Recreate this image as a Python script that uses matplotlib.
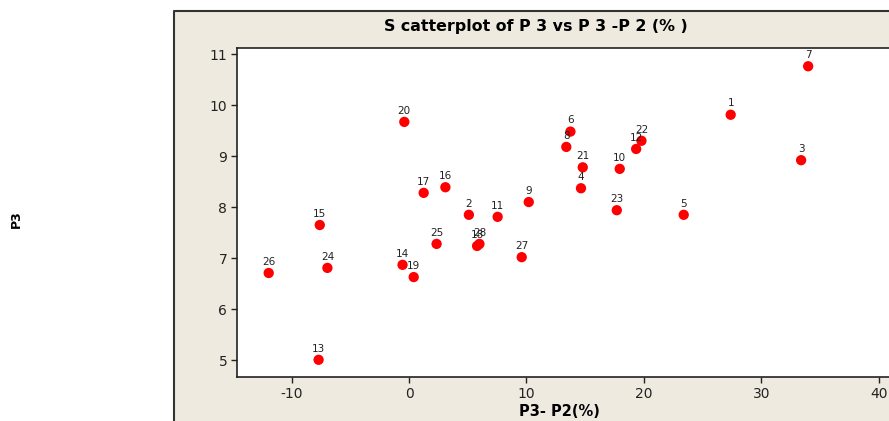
import matplotlib.pyplot as plt
from matplotlib.patches import Rectangle
from matplotlib.lines import Line2D

plt.rcParams['savefig.bbox'] = 'standard'
plt.rcParams['axes.unicode_minus'] = False

# P3-P2(%) vs P3, point labels 1..28
labels = [str(i) for i in range(1, 29)]
p3_p2 = [27.4, 5.1, 33.4, 14.65, 23.4, 13.75, 34.0, 13.4, 10.2, 17.95,
         7.55, 19.35, -7.7, -0.55, -7.6, 3.1, 1.25, 5.8, 0.4, -0.4,
         14.8, 19.8, 17.7, -6.95, 2.35, -11.95, 9.6, 6.0]
p3 = [9.81, 7.85, 8.92, 8.37, 7.85, 9.48, 10.76, 9.18, 8.10, 8.75,
      7.81, 9.14, 5.01, 6.87, 7.65, 8.39, 8.28, 7.24, 6.63, 9.67,
      8.78, 9.30, 7.94, 6.81, 7.28, 6.71, 7.02, 7.28]

W, H = 889, 421
beige = "#EEEAE0"

fig = plt.figure(figsize=(W / 100, H / 100), dpi=100)
fig.patch.set_facecolor("white")

# outer graph panel (cut off at the right and bottom edges)
px, py = 174 / W, 1 - 11 / H
fig.patches.append(Rectangle((px, 0), 1 - px, py, transform=fig.transFigure,
                             facecolor=beige, edgecolor="none", zorder=-5))
fig.lines.append(Line2D([px, px, 1], [0, py, py], transform=fig.transFigure,
                        color="#333333", linewidth=1.5, zorder=-4))

# data area, right side runs to the figure edge
ax_l, ax_r, ax_t, ax_b = 237, 889, 48, 377
ax = fig.add_axes([ax_l / W, 1 - ax_b / H, (ax_r - ax_l) / W, (ax_b - ax_t) / H])
ax.set_facecolor("white")

x0, sx = 409.0, 11.74
ax.set_xlim((ax_l - x0) / sx, (ax_r - x0) / sx)
y11, sy = 54.0, 51.05
ax.set_ylim(11 - (ax_b - y11) / sy, 11 + (y11 - ax_t) / sy)

ax.scatter(p3_p2, p3, s=55, color="#FF0000", edgecolors="none", zorder=3)
for lab, xv, yv in zip(labels, p3_p2, p3):
    ax.annotate(lab, (xv, yv), xytext=(0, 4.5), textcoords="offset points",
                ha="center", va="bottom", fontsize=7.5, color="#222222")

ax.set_xticks([-10, 0, 10, 20, 30, 40])
ax.set_yticks([5, 6, 7, 8, 9, 10, 11])
ax.tick_params(direction="out", length=4, width=1, labelsize=10, pad=3,
               colors="#222222")
for s in ["left", "bottom", "top"]:
    ax.spines[s].set_linewidth(1.2)
    ax.spines[s].set_color("#222222")
ax.spines["right"].set_visible(False)

fig.text(535.5 / W, 1 - 27 / H, "S catterplot of P 3 vs P 3 -P 2 (% )",
         ha="center", va="center", fontsize=11.4, fontweight="bold")
fig.text(559 / W, 1 - 412 / H, "P3- P2(%)", ha="center", va="center",
         fontsize=10.5, fontweight="bold")
fig.text(16 / W, 1 - 219 / H, "P3", ha="center", va="center", rotation=90,
         fontsize=9, fontweight="bold")

fig.savefig("out.png", dpi=100)
